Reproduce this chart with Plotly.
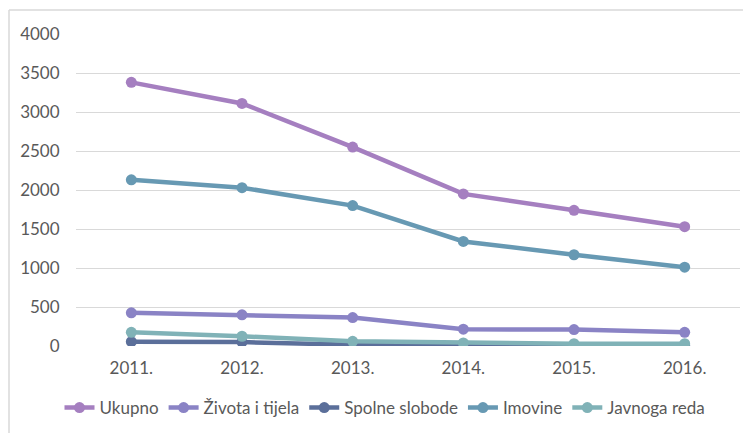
import plotly.graph_objects as go

years = ["2011.", "2012.", "2013.", "2014.", "2015.", "2016."]
ukupno = [3380, 3110, 2550, 1950, 1740, 1530]
zivota = [425, 400, 365, 215, 210, 175]
spolne = [55, 50, 15, 10, 5, 5]
imovine = [2130, 2030, 1800, 1340, 1170, 1010]
javnoga = [175, 125, 60, 40, 30, 30]

series = [
    ("Ukupno", ukupno, "#a57fc0"),
    ("Života i tijela", zivota, "#8a83c5"),
    ("Spolne slobode", spolne, "#5b6f9a"),
    ("Imovine", imovine, "#6799b3"),
    ("Javnoga reda", javnoga, "#80b2b7"),
]

fig = go.Figure()
for name, vals, col in series:
    fig.add_trace(go.Scatter(
        x=years, y=vals, name=name, mode="lines+markers",
        line=dict(color=col, width=4.5),
        marker=dict(color=col, size=11),
    ))

# page body has an 8px default margin; work in figure coordinates
OFF = 8
W, H = 751 - OFF, 433 - OFF
L, T = 76 - OFF, 34 - OFF
R = W - (740 - OFF)
B = H - (346 - OFF)
pw = W - L - R
ph = H - T - B

def px(x):
    return (x - OFF - L) / pw

def py(y):
    return (H - B - (y - OFF)) / ph

FS = 17
fig.update_layout(
    width=W, height=H,
    margin=dict(l=L, r=R, t=T, b=B, autoexpand=False),
    paper_bgcolor="white", plot_bgcolor="white",
    font=dict(family="Lato, Open Sans, sans-serif", size=FS, color="#595959"),
    showlegend=True,
    legend=dict(orientation="h", x=px(385), xanchor="center", y=py(408), yanchor="middle",
                font=dict(size=FS, color="#595959"), tracegroupgap=0,
                traceorder="normal"),
    xaxis=dict(range=[-0.5, 5.5], showgrid=False, showline=False, zeroline=False,
               ticks="outside", ticklen=7, tickcolor="rgba(0,0,0,0)",
               tickfont=dict(size=FS, color="#595959")),
    yaxis=dict(range=[0, 4000], dtick=500, showgrid=True, gridcolor="#d9d9d9", gridwidth=1,
               zeroline=False, showline=False, ticks="outside", ticklen=12, tickcolor="rgba(0,0,0,0)",
               tickfont=dict(size=FS, color="#595959")),
    shapes=[
        dict(type="line", xref="paper", yref="paper", x0=px(9), x1=px(760), y0=py(10), y1=py(10),
             line=dict(color="#d9d9d9", width=1.5)),
        dict(type="line", xref="paper", yref="paper", x0=px(9), x1=px(9), y0=py(10), y1=py(440),
             line=dict(color="#d9d9d9", width=1.5)),
    ],
)

fig.write_html("out.html")
